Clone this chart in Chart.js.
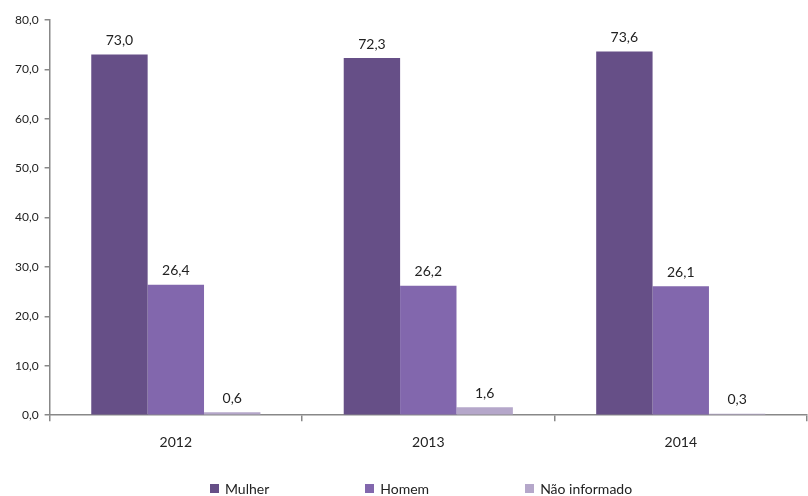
<!DOCTYPE html>
<html>
<head>
<meta charset="utf-8">
<script src="https://cdn.jsdelivr.net/npm/chart.js@4/dist/chart.umd.min.js"></script>
<style>
    html, body { margin: 0; padding: 0; background: #fff; }
    #wrap { position: relative; width: 808px; height: 496px; }
    #legend {
        position: absolute; left: 210px; top: 480px;
        display: flex; font-family: Lato, sans-serif; font-size: 14px; color: #222;
    }
    .item { display: flex; align-items: center; margin-right: 96px; }
    .box { width: 9px; height: 9px; margin-right: 6px; }
</style>
</head>
<body>
<div id="wrap">
    <canvas id="chart" width="808" height="496"></canvas>
    <div id="legend"></div>
</div>
<script>
const years = ['2012', '2013', '2014'];
const mulher = [73.0, 72.3, 73.6];
const homem = [26.4, 26.2, 26.1];
const naoInformado = [0.6, 1.6, 0.3];
const yTicks = [0, 10, 20, 30, 40, 50, 60, 70, 80];

const seriesNames = ['Mulher', 'Homem', 'Não informado'];
const seriesColors = ['#664F87', '#8267AD', '#B5A7CA'];

function fmt(v) {
    return v.toFixed(1).replace('.', ',');
}

// value labels above each bar
const barLabels = {
    id: 'barLabels',
    afterDatasetsDraw(chart) {
        const ctx = chart.ctx;
        ctx.save();
        ctx.font = '14px Lato, sans-serif';
        ctx.fillStyle = '#222';
        ctx.textAlign = 'center';
        ctx.textBaseline = 'bottom';
        chart.data.datasets.forEach((ds, i) => {
            chart.getDatasetMeta(i).data.forEach((bar, j) => {
                ctx.fillText(fmt(ds.data[j]), bar.x, bar.y - 7);
            });
        });
        ctx.restore();
    }
};

new Chart(document.getElementById('chart'), {
    type: 'bar',
    data: {
        labels: years,
        datasets: [mulher, homem, naoInformado].map((d, i) => ({
            label: seriesNames[i],
            data: d,
            backgroundColor: seriesColors[i],
            barPercentage: 1,
            categoryPercentage: 0.67
        }))
    },
    options: {
        responsive: false,
        animation: false,
        layout: { padding: { left: 9, top: 20, right: 1, bottom: 32 } },
        plugins: { legend: { display: false }, tooltip: { enabled: false } },
        scales: {
            x: {
                grid: { display: true, drawOnChartArea: false, offset: true, tickLength: 6, color: '#888', lineWidth: 1.5 },
                border: { color: '#888', width: 1.5 },
                ticks: { color: '#222', font: { family: 'Lato, sans-serif', size: 14 }, padding: 13 }
            },
            y: {
                min: 0,
                max: 80,
                afterBuildTicks: axis => { axis.ticks = yTicks.map(v => ({ value: v })); },
                grid: { display: true, drawOnChartArea: false, tickLength: 5, color: '#888', lineWidth: 1.5 },
                border: { color: '#888', width: 1.5 },
                ticks: { color: '#222', font: { family: 'Lato, sans-serif', size: 12 }, padding: 6, callback: v => fmt(v) }
            }
        }
    },
    plugins: [barLabels]
});

// legend
const legend = document.getElementById('legend');
seriesNames.forEach((name, i) => {
    const item = document.createElement('div');
    item.className = 'item';
    const box = document.createElement('div');
    box.className = 'box';
    box.style.background = seriesColors[i];
    const txt = document.createElement('span');
    txt.textContent = name;
    item.appendChild(box);
    item.appendChild(txt);
    legend.appendChild(item);
});
</script>
</body>
</html>
